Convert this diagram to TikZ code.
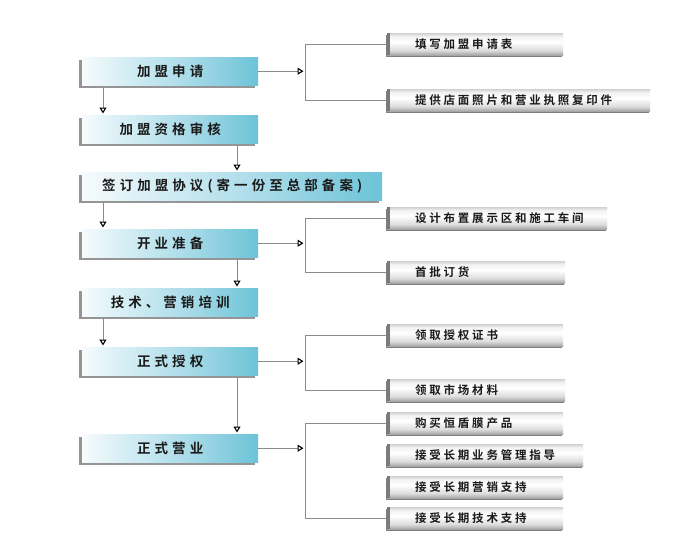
\documentclass[tikz,border=0pt]{standalone}
\usepackage{fontspec}
\usetikzlibrary{arrows.meta,shadows,calc}
\newfontfamily\cjkL[LetterSpace=30]{Noto Sans CJK SC Bold}
\newfontfamily\cjkR[LetterSpace=24]{Noto Sans CJK SC Bold}
\definecolor{lcA}{HTML}{F7FBFD}
\definecolor{lcB}{HTML}{E3F3F8}
\definecolor{lcC}{HTML}{A9DBE8}
\definecolor{lcD}{HTML}{6CC3D8}
\definecolor{rcBot}{HTML}{A4A4A4}
\definecolor{rcMid}{HTML}{DCDCDC}
\definecolor{rcTop}{HTML}{D2D2D2}
\definecolor{rcTop2}{HTML}{F2F2F2}
\definecolor{shd}{HTML}{959595}
\definecolor{rshd}{HTML}{7E7E7E}
\definecolor{rbar}{HTML}{7A7A7A}
\definecolor{conncol}{HTML}{8A8A8A}
\definecolor{txt}{HTML}{1A1A1A}
\pgfdeclarehorizontalshading{lshade}{100bp}{color(0bp)=(lcA); color(25bp)=(lcA); color(32bp)=(lcB); color(55bp)=(lcC); color(75bp)=(lcD); color(100bp)=(lcD)}
\pgfdeclareverticalshading{rshade}{100bp}{color(0bp)=(rcBot); color(25bp)=(rcBot); color(36bp)=(rcMid); color(55bp)=(white); color(68bp)=(rcTop2); color(75bp)=(rcTop); color(100bp)=(rcTop)}
\tikzset{
  lbox/.style={shading=lshade, minimum height=28pt, minimum width=176pt, inner sep=0pt,
    anchor=north west, text=txt, font=\cjkL\fontsize{13.5}{15}\selectfont,
    drop shadow={shadow xshift=-3pt, shadow yshift=-3pt, fill=shd, opacity=1}},
  rbox/.style={shading=rshade, minimum height=22pt, inner xsep=0pt, inner ysep=0pt,
    anchor=north west, align=left, text=txt, font=\cjkR\fontsize{11.5}{13}\selectfont,
    drop shadow={shadow xshift=-1pt, shadow yshift=-2pt, fill=rshd, opacity=1},
    path picture={\fill[rbar] (path picture bounding box.north west) rectangle ([xshift=3pt]path picture bounding box.south west);}},
  conn/.style={draw=conncol, line width=0.8pt},
  arr/.style={-{Triangle[length=6pt,width=7pt,fill=white,color=black,line width=1.1pt]}}
}
\begin{document}
\begin{tikzpicture}[x=1pt,y=-1pt]
\fill[white] (0,0) rectangle (700,557);
\useasboundingbox (0,0) rectangle (700,557);
% left main steps
\node[lbox] (b1) at (82,57) {加盟申请};
\node[lbox] (b2) at (82,115) {加盟资格审核};
\node[lbox, minimum width=300pt] (b3) at (82,172) {签订加盟协议(寄一份至总部备案)};
\node[lbox] (b4) at (82,229) {开业准备};
\node[lbox] (b5) at (82,288) {技术、营销培训};
\node[lbox] (b6) at (82,347) {正式授权};
\node[lbox] (b7) at (82,434) {正式营业};
% right boxes
\node[rbox, text width=176pt] (r11) at (387,33) {\hspace*{28pt}填写加盟申请表};
\node[rbox, text width=263pt] (r12) at (387,89) {\hspace*{28pt}提供店面照片和营业执照复印件};
\node[rbox, text width=220pt] (r21) at (387,207) {\hspace*{28pt}设计布置展示区和施工车间};
\node[rbox, text width=178pt] (r22) at (387,261) {\hspace*{28pt}首批订货};
\node[rbox, text width=176pt] (r31) at (387,324) {\hspace*{28pt}领取授权证书};
\node[rbox, text width=178pt] (r32) at (387,379) {\hspace*{28pt}领取市场材料};
\node[rbox, text width=176pt] (r41) at (387,412) {\hspace*{28pt}购买恒盾膜产品};
\node[rbox, text width=196pt] (r42) at (387,444) {\hspace*{28pt}接受长期业务管理指导};
\node[rbox, text width=176pt] (r43) at (387,476) {\hspace*{28pt}接受长期营销支持};
\node[rbox, text width=176pt] (r44) at (387,507) {\hspace*{28pt}接受长期技术支持};
% vertical arrows
\draw[conn,arr] ([xshift=21pt,yshift=-3pt]b1.south west) -- ([xshift=21pt,yshift=1.5pt]b2.north west);
\draw[conn,arr] ([xshift=155pt,yshift=-3pt]b2.south west) -- ([xshift=155pt,yshift=1.5pt]b3.north west);
\draw[conn,arr] ([xshift=21pt,yshift=-3pt]b3.south west) -- ([xshift=21pt,yshift=1.5pt]b4.north west);
\draw[conn,arr] ([xshift=155pt,yshift=-3pt]b4.south west) -- ([xshift=155pt,yshift=1.5pt]b5.north west);
\draw[conn,arr] ([xshift=21pt,yshift=-3pt]b5.south west) -- ([xshift=21pt,yshift=1.5pt]b6.north west);
\draw[conn,arr] ([xshift=155pt,yshift=-3pt]b6.south west) -- ([xshift=155pt,yshift=1.5pt]b7.north west);
% junctions
\coordinate (j1) at (305,71);
\coordinate (j2) at (305,244);
\coordinate (j3) at (305,361);
\coordinate (j4) at (305,449);
\draw[conn,arr] (b1.east) -- ([xshift=-1.5pt]b1.east -| j1);
\draw[conn,arr] (b4.east) -- ([xshift=-1.5pt]b4.east -| j2);
\draw[conn,arr] (b6.east) -- ([xshift=-1.5pt]b6.east -| j3);
\draw[conn,arr] (b7.east) -- ([xshift=-1.5pt]b7.east -| j4);
\draw[conn] (r11.west) -- (r11.west -| j1) -- (r12.west -| j1) -- (r12.west);
\draw[conn] (r21.west) -- (r21.west -| j2) -- (r22.west -| j2) -- (r22.west);
\draw[conn] (r31.west) -- (r31.west -| j3) -- (r32.west -| j3) -- (r32.west);
\draw[conn] (r41.west) -- (r41.west -| j4) -- (r44.west -| j4) -- (r44.west);
\end{tikzpicture}
\end{document}
